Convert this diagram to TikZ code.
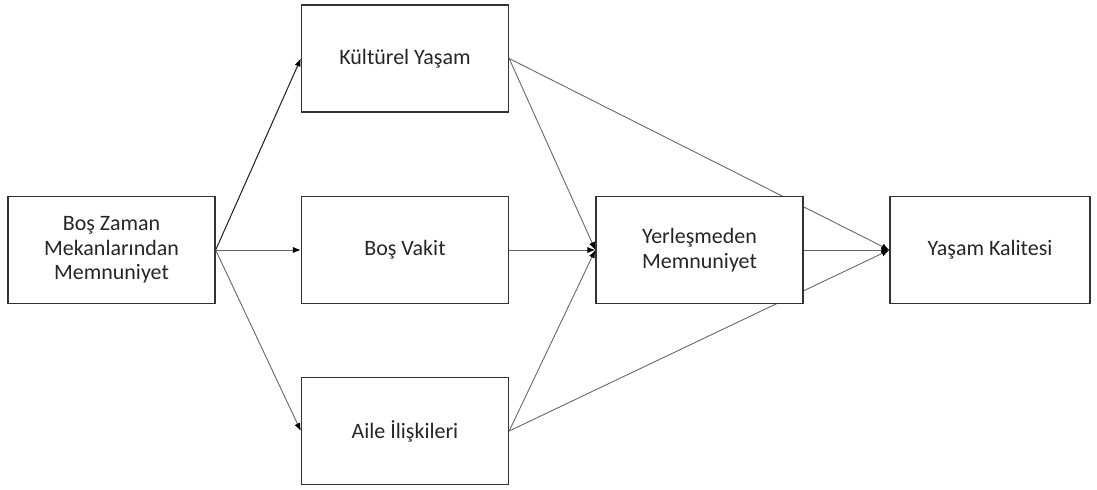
\documentclass[tikz,border=0pt]{standalone}
\usepackage{fontspec}
\setmainfont{Carlito}
\usetikzlibrary{arrows.meta,backgrounds}

\begin{document}
\begin{tikzpicture}[
		kutu/.style={draw=black!80, line width=0.75pt, fill=white, minimum width=4.14cm, minimum height=2.14cm, align=center, font=\fontsize{12.5}{14}\selectfont, text=black!85},
		yol/.style={draw=black!60, line width=0.5pt, -{Latex[length=4.5pt,width=3.5pt,color=black]}}
	]
	%%%%% KUTULAR %%%%%
	\useasboundingbox (0, 0) rectangle (21.94, 9.78);
	
	\node[kutu] (bos) at (2.23, 4.78) {Boş Zaman\\Mekanlarından\\Memnuniyet};
	
	\node[kutu] (kultur) at (8.10, 8.61) {Kültürel Yaşam};
	\node[kutu] (vakit) at (8.10, 4.78) {Boş Vakit};
	\node[kutu] (aile) at (8.10, 1.16) {Aile İlişkileri};
	
	\node[kutu] (yer) at (13.99, 4.78) {Yerleşmeden\\Memnuniyet};
	\node[kutu, minimum width=4.0cm] (kalite) at (19.80, 4.78) {Yaşam Kalitesi};
	
	%%%%% OKLAR %%%%%
	\draw[yol, draw=black!85, line width=0.6pt] (bos.east) -- (kultur.west);
	\draw[yol] (bos.east) -- (vakit.west);
	\draw[yol] (bos.east) -- (aile.west);
	
	\draw[yol] (kultur.east) -- (yer.west);
	\draw[yol] (vakit.east) -- (yer.west);
	\draw[yol] (aile.east) -- (yer.west);
	
	\draw[yol] (yer.east) -- (kalite.west);
	\begin{pgfonlayer}{background}
		\draw[yol] (kultur.east) -- (kalite.west);
		\draw[yol] (aile.east) -- (kalite.west);
	\end{pgfonlayer}
\end{tikzpicture}
\end{document}
